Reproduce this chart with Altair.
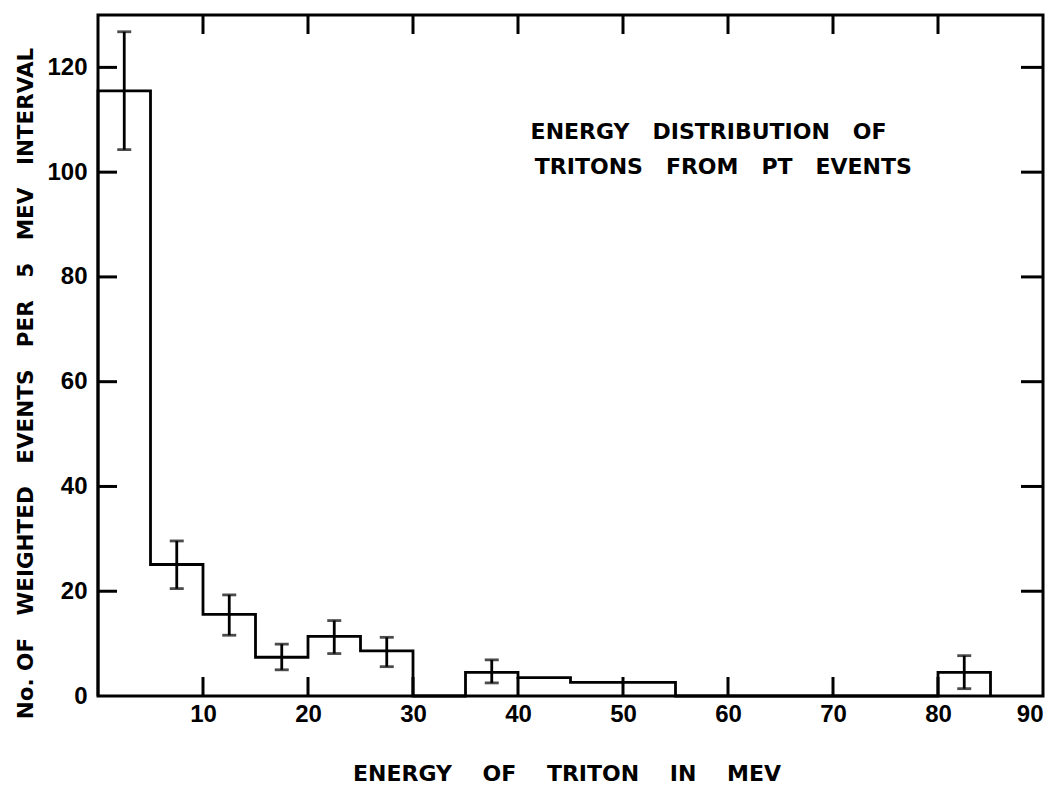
import altair as alt
import pandas as pd

# Histogram (5 MeV bins), left edges and heights
bin_left = [0, 5, 10, 15, 20, 25, 30, 35, 40, 45, 50, 55, 60, 65, 70, 75, 80, 85]
counts = [115.5, 25.1, 15.6, 7.4, 11.4, 8.6, 0, 4.5, 3.5, 2.6, 2.6, 0, 0, 0, 0, 0, 4.5, 0]

# Error bars at bin centres
err_x = [2.5, 7.5, 12.5, 17.5, 22.5, 27.5, 37.5, 82.5]
err_lo = [104.3, 20.5, 11.6, 5.0, 8.1, 5.6, 2.5, 1.4]
err_hi = [126.8, 29.6, 19.3, 9.9, 14.4, 11.2, 6.9, 7.7]

x_ticks = [10, 20, 30, 40, 50, 60, 70, 80, 90]
x_inner_ticks = [10, 20, 30, 40, 50, 60, 70, 80]
y_ticks = [0, 20, 40, 60, 80, 100, 120]
y_inner_ticks = [20, 40, 60, 80, 100, 120]

NB = "\u00a0"
x_title = (NB * 4).join(["ENERGY", "OF", "TRITON", "IN", "MEV"])
y_title = (NB * 3).join(["No. OF", "WEIGHTED", "EVENTS", "PER", "5", "MEV", "INTERVAL"])
note_lines = [(NB * 3).join(["ENERGY", "DISTRIBUTION", "OF"]),
              (NB * 3).join(["TRITONS", "FROM", "PT", "EVENTS"])]
note_x = [41.2, 41.6]
note_y = [106.3, 99.6]

W, H = 945, 681
FONT = "DejaVu Sans"
LFONT = "Liberation Sans"
TL = 19  # inner tick length in px

hist_df = pd.DataFrame({
    "e": [0] + bin_left,
    "n": [0] + counts,
    "i": list(range(len(bin_left) + 1)),
})
err_df = pd.DataFrame({"e": err_x, "lo": err_lo, "hi": err_hi})
xt_df = pd.DataFrame({"v": x_inner_ticks})
yt_df = pd.DataFrame({"v": y_inner_ticks})
note_df = pd.DataFrame({"t": note_lines, "x": note_x, "y": note_y})

xscale = alt.Scale(domain=[0, 90], nice=False, zero=False)
yscale = alt.Scale(domain=[0, 130], nice=False)

xaxis = alt.Axis(values=x_ticks, title=x_title, labelFontSize=24, labelPadding=6,
                 titleFontSize=22, titleY=84, titleBaseline="alphabetic",
                 titleX=W / 2 - 4, titleLimit=1000)
yaxis = alt.Axis(values=y_ticks, title=y_title, labelFontSize=24, labelPadding=11,
                 titleFontSize=21.5, titleX=-66, titleY=368, titleAngle=270,
                 titleBaseline="alphabetic", titleAlign="center", titleLimit=1000)


def X(f):
    return alt.X(f, scale=xscale, axis=xaxis)


def Y(f):
    return alt.Y(f, scale=yscale, axis=yaxis)


hist = alt.Chart(hist_df).mark_line(
    interpolate="step-after", color="black", strokeWidth=2.8
).encode(x=X("e:Q"), y=Y("n:Q"), order="i:Q")

errs = alt.Chart(err_df).mark_errorbar(
    color="black", thickness=2.8,
    ticks=alt.MarkConfig(size=14, strokeWidth=2.8, color="black"),
).encode(x=X("e:Q"), y=Y("lo:Q"), y2="hi:Q")

left_t = alt.Chart(yt_df).mark_rule(color="black", strokeWidth=3).encode(
    y=Y("v:Q"), x=alt.value(0), x2=alt.value(TL))
right_t = alt.Chart(yt_df).mark_rule(color="black", strokeWidth=3).encode(
    y=Y("v:Q"), x=alt.value(W), x2=alt.value(W - TL - 3))
bot_t = alt.Chart(xt_df).mark_rule(color="black", strokeWidth=3).encode(
    x=X("v:Q"), y=alt.value(H), y2=alt.value(H - TL))
top_t = alt.Chart(xt_df).mark_rule(color="black", strokeWidth=3).encode(
    x=X("v:Q"), y=alt.value(0), y2=alt.value(TL))

note = alt.Chart(note_df).mark_text(
    align="left", baseline="alphabetic", font=FONT, fontSize=22, fontWeight="bold",
    color="black"
).encode(x=X("x:Q"), y=Y("y:Q"), text="t:N")

chart = alt.layer(hist, errs, left_t, right_t, bot_t, top_t, note).properties(
    width=W, height=H,
    autosize=alt.AutoSizeParams(type="none"),
    padding={"left": 90, "top": 7, "right": 6, "bottom": 90},
).configure_view(
    stroke="black", strokeWidth=3
).configure_axis(
    grid=False, domain=False, ticks=False, tickSize=0,
    labelFont=LFONT, labelColor="black", labelFontWeight="bold",
    titleFont=FONT, titleColor="black", titleFontWeight="bold",
)

chart.save("out.html", embed_options={"renderer": "svg", "actions": False})
